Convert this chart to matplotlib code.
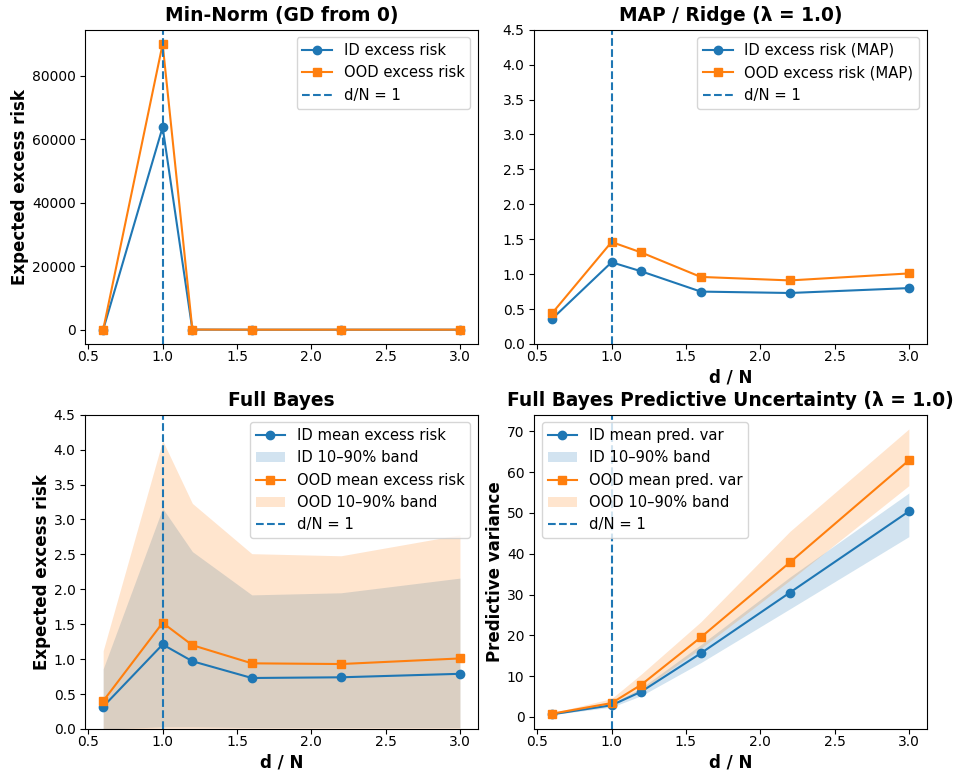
import matplotlib
matplotlib.use("Agg")
import matplotlib.pyplot as plt
import numpy as np

ratios = [0.6, 1.0, 1.2, 1.6, 2.2, 3.0]

# Min-Norm (GD from 0)
mn_id = [0.5, 63800, 30.0, 1.5, 0.9, 0.8]
mn_ood = [0.6, 90000, 40.0, 2.0, 1.2, 1.1]

# MAP / Ridge
map_id = [0.36, 1.17, 1.04, 0.75, 0.73, 0.80]
map_ood = [0.44, 1.46, 1.31, 0.96, 0.91, 1.01]

# Full Bayes excess risk
fb_id_mean = [0.32, 1.21, 0.97, 0.73, 0.74, 0.79]
fb_id_lo = [0.00, 0.03, 0.03, 0.02, 0.02, 0.02]
fb_id_hi = [0.86, 3.16, 2.54, 1.92, 1.95, 2.16]
fb_ood_mean = [0.40, 1.52, 1.20, 0.94, 0.93, 1.01]
fb_ood_lo = [0.00, 0.01, 0.01, 0.01, 0.01, 0.01]
fb_ood_hi = [1.12, 4.13, 3.23, 2.51, 2.48, 2.78]

# Full Bayes predictive variance
pv_id_mean = [0.65, 2.87, 6.2, 15.6, 30.5, 50.4]
pv_id_lo = [0.55, 2.4, 5.2, 13.3, 26.5, 44.2]
pv_id_hi = [0.75, 3.3, 7.1, 17.7, 34.3, 54.9]
pv_ood_mean = [0.8, 3.4, 7.9, 19.5, 37.9, 62.9]
pv_ood_lo = [0.6, 2.7, 6.5, 16.8, 33.5, 56.7]
pv_ood_hi = [1.0, 4.5, 10.5, 23.3, 45.5, 70.6]

TITLE_FS = 13.4
LABEL_FS = 12
LEG_FS = 10.6

fig, axes = plt.subplots(2, 2, figsize=(9.61, 7.71), dpi=100)
fig.subplots_adjust(left=0.0888, right=0.9643, top=0.9615, bottom=0.0545,
                    wspace=0.144, hspace=0.225)

# Top-left
ax = axes[0, 0]
ax.plot(ratios, mn_id, marker='o', color='C0', label='ID excess risk')
ax.plot(ratios, mn_ood, marker='s', color='C1', label='OOD excess risk')
ax.axvline(1.0, linestyle='--', color='C0', label='d/N = 1')
ax.set_title('Min-Norm (GD from 0)', fontsize=TITLE_FS, fontweight='bold')
ax.set_ylabel('Expected excess risk', fontsize=LABEL_FS, fontweight='bold', labelpad=2)
ax.legend(loc='upper right', fontsize=LEG_FS)

# Top-right
ax = axes[0, 1]
ax.plot(ratios, map_id, marker='o', color='C0', label='ID excess risk (MAP)')
ax.plot(ratios, map_ood, marker='s', color='C1', label='OOD excess risk (MAP)')
ax.axvline(1.0, linestyle='--', color='C0', label='d/N = 1')
ax.set_ylim(0, 4.5)
ax.set_title('MAP / Ridge (λ = 1.0)', fontsize=TITLE_FS, fontweight='bold')
ax.set_xlabel('d / N', fontsize=LABEL_FS, fontweight='bold', labelpad=3)
ax.legend(loc='upper right', fontsize=LEG_FS)

# Bottom-left
ax = axes[1, 0]
ax.plot(ratios, fb_id_mean, marker='o', color='C0', label='ID mean excess risk')
ax.fill_between(ratios, fb_id_lo, fb_id_hi, color='C0', alpha=0.2, linewidth=0,
                label='ID 10–90% band')
ax.plot(ratios, fb_ood_mean, marker='s', color='C1', label='OOD mean excess risk')
ax.fill_between(ratios, fb_ood_lo, fb_ood_hi, color='C1', alpha=0.2, linewidth=0,
                label='OOD 10–90% band')
ax.axvline(1.0, linestyle='--', color='C0', label='d/N = 1')
ax.set_ylim(0, 4.5)
ax.set_title('Full Bayes', fontsize=TITLE_FS, fontweight='bold')
ax.set_xlabel('d / N', fontsize=LABEL_FS, fontweight='bold', labelpad=3)
ax.set_ylabel('Expected excess risk', fontsize=LABEL_FS, fontweight='bold', labelpad=2)
ax.legend(loc='upper right', fontsize=LEG_FS)

# Bottom-right
ax = axes[1, 1]
ax.plot(ratios, pv_id_mean, marker='o', color='C0', label='ID mean pred. var')
ax.fill_between(ratios, pv_id_lo, pv_id_hi, color='C0', alpha=0.2, linewidth=0,
                label='ID 10–90% band')
ax.plot(ratios, pv_ood_mean, marker='s', color='C1', label='OOD mean pred. var')
ax.fill_between(ratios, pv_ood_lo, pv_ood_hi, color='C1', alpha=0.2, linewidth=0,
                label='OOD 10–90% band')
ax.axvline(1.0, linestyle='--', color='C0', label='d/N = 1')
ax.set_title('Full Bayes Predictive Uncertainty (λ = 1.0)', fontsize=TITLE_FS, fontweight='bold')
ax.set_xlabel('d / N', fontsize=LABEL_FS, fontweight='bold', labelpad=3)
ax.set_ylabel('Predictive variance', fontsize=LABEL_FS, fontweight='bold', labelpad=2)
ax.legend(loc='upper left', fontsize=LEG_FS)

for ax in axes.flat:
    ax.tick_params(labelsize=10)
    ax.tick_params(axis='x', pad=1)
    ax.set_xticks([0.5, 1.0, 1.5, 2.0, 2.5, 3.0])

fig.savefig('out.png', dpi=100)
